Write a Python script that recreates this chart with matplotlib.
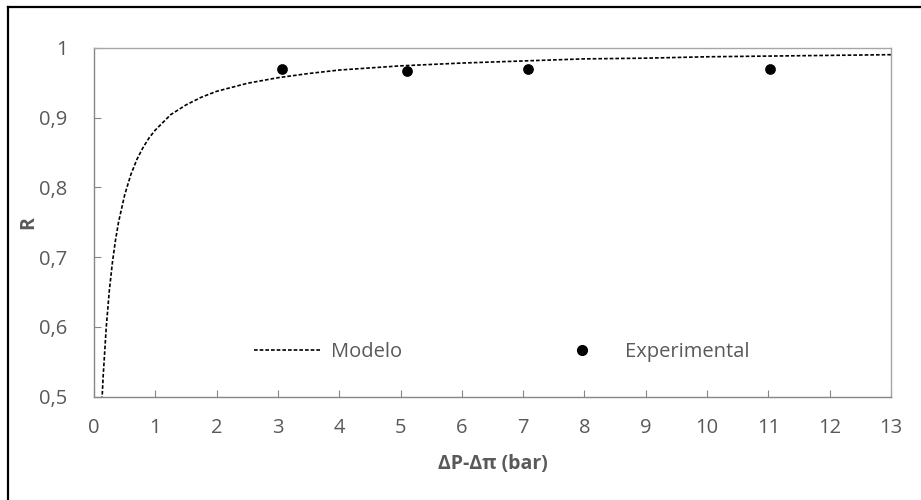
import matplotlib.pyplot as plt
from matplotlib.lines import Line2D

plt.rcParams['font.family'] = ['Open Sans', 'DejaVu Sans']

# Modelo (curve)
modelo_x = [0.13, 0.15, 0.2, 0.25, 0.3, 0.35, 0.4, 0.5, 0.6, 0.7, 0.8, 0.9, 1.0, 1.25, 1.5,
            1.75, 2.0, 2.5, 3.0, 3.5, 4.0, 5.0, 6.0, 7.0, 8.0, 9.0, 10.0, 11.0, 12.0, 13.0]
modelo_r = [0.495, 0.530, 0.600, 0.652, 0.692, 0.724, 0.750, 0.789, 0.818, 0.840, 0.857,
            0.871, 0.882, 0.904, 0.918, 0.929, 0.9375, 0.949, 0.957, 0.963, 0.968, 0.974,
            0.978, 0.981, 0.984, 0.985, 0.987, 0.988, 0.989, 0.990]

# Experimental points
exp_x = [3.07, 5.1, 7.08, 11.03]
exp_r = [0.970, 0.967, 0.969, 0.969]

xticks = list(range(0, 14))
yticks = [0.5, 0.6, 0.7, 0.8, 0.9, 1.0]
ytick_labels = ['0,5', '0,6', '0,7', '0,8', '0,9', '1']

grey = '#595959'
axis_grey = '#868686'
fs = 14.5

fig = plt.figure(figsize=(9.21, 5.0), dpi=100)
ax = fig.add_axes([94 / 921, 1 - 396.7 / 500, 797 / 921, 349 / 500])

ax.plot(modelo_x, modelo_r, color='black', linestyle=(0, (2.2, 1.2)), linewidth=1.2,
        label='Modelo')
ax.scatter(exp_x, exp_r, s=45, color='black', zorder=3, label='Experimental')

ax.set_xlim(0, 13)
ax.set_ylim(0.5, 1.0)
ax.set_xticks(xticks)
ax.set_yticks(yticks)
ax.set_yticklabels(ytick_labels)

for s in ax.spines.values():
    s.set_color(axis_grey)
    s.set_linewidth(1.0)
ax.spines['top'].set_color('#a6a6a6')
ax.spines['right'].set_color('#a6a6a6')

ax.tick_params(axis='both', direction='in', length=5, color=axis_grey,
               labelcolor=grey, labelsize=fs)
ax.tick_params(axis='x', pad=15)
ax.tick_params(axis='y', pad=19)

ax.set_xlabel('ΔP-Δπ (bar)', fontsize=fs - 0.5, fontweight='bold', color=grey)
ax.set_ylabel('R', fontsize=fs - 0.5, fontweight='bold', color=grey)
ax.xaxis.set_label_coords(0.5, (396.7 - 464) / 349)
ax.yaxis.set_label_coords((28 - 94) / 797, 0.5)
ax.xaxis.label.set_va('center')
ax.yaxis.label.set_va('center')

handles = [Line2D([0], [0], color='black', linestyle=(0, (2.2, 1.2)), linewidth=1.2),
           Line2D([0], [0], marker='o', color='none', markerfacecolor='black',
                  markeredgecolor='black', markersize=7)]
fpx = fs * 100 / 72
leg = ax.legend(handles, ['Modelo', 'Experimental'], ncol=2, frameon=False,
                loc='center left', bbox_to_anchor=((254 - 94) / 797, (396.7 - 352) / 349),
                borderpad=0, borderaxespad=0, fontsize=fs,
                handlelength=68 / fpx, handletextpad=9 / fpx, columnspacing=146 / fpx)
for t in leg.get_texts():
    t.set_color(grey)

# outer chart border (left and top only visible)
fig.add_artist(Line2D([7.5 / 921, 7.5 / 921], [0, 1 - 7 / 500], color='black', linewidth=1.6,
                      transform=fig.transFigure))
fig.add_artist(Line2D([7.5 / 921, 1], [1 - 7 / 500, 1 - 7 / 500], color='black', linewidth=1.6,
                      transform=fig.transFigure))

fig.savefig('out.png', dpi=100)
